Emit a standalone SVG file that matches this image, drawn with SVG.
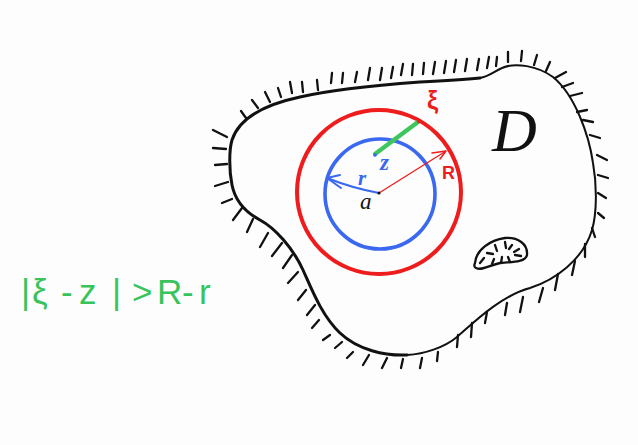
<svg xmlns="http://www.w3.org/2000/svg" width="638" height="445" viewBox="0 0 638 445">
<style>
.bd{fill:none;stroke:#111;stroke-linecap:round;stroke-linejoin:round}
.ht line{stroke:#111;stroke-width:2.3;stroke-linecap:round}
.lbl{font-family:"Liberation Serif",serif;font-style:italic}
.sans{font-family:"Liberation Sans",Arial,sans-serif}
</style>
<rect width="638" height="445" fill="#fdfdfd"/>
<g id="domain">
<path class="bd" stroke-width="3" d="M480,78 C460,80 440,81 420,82 C380,85 330,90 300,97 C272,103 240,115 232,140 C229,150 229,170 232,185 C235,200 245,212 260,220 C275,228 293,248 303,270 C312,290 322,316 340,333 C358,350 385,356 407,355"/>
<path class="bd" stroke-width="2" d="M407,355 C425,354 445,347 457,337 C472,324 500,296 530,288 C555,280 583,260 592,230 C597,213 597,185 593,163 C589,135 575,95 553,77 C538,66 515,62 502,68 C495,71 488,77 480,78"/>
</g>
<g id="hatching" class="ht">
<line x1="213" y1="130" x2="227" y2="137"/>
<line x1="213" y1="148" x2="226" y2="149"/>
<line x1="215" y1="165" x2="227" y2="164"/>
<line x1="215" y1="186" x2="228" y2="182"/>
<line x1="222" y1="203" x2="232" y2="199"/>
<line x1="233" y1="220" x2="242" y2="208"/>
<line x1="247" y1="232" x2="253" y2="219"/>
<line x1="260" y1="247" x2="268" y2="233"/>
<line x1="272" y1="256" x2="282" y2="243"/>
<line x1="283" y1="268" x2="292" y2="255"/>
<line x1="288" y1="283" x2="298" y2="272"/>
<line x1="298" y1="300" x2="306" y2="290"/>
<line x1="307" y1="315" x2="315" y2="305"/>
<line x1="312" y1="328" x2="319" y2="320"/>
<line x1="323" y1="340" x2="330" y2="335"/>
<line x1="335" y1="348" x2="342" y2="342"/>
<line x1="347" y1="358" x2="353" y2="352"/>
<line x1="363" y1="365" x2="369" y2="355"/>
<line x1="382" y1="368" x2="387" y2="358"/>
<line x1="401" y1="368" x2="403" y2="359"/>
<line x1="420" y1="368" x2="422" y2="358"/>
<line x1="437" y1="361" x2="438" y2="352"/>
<line x1="457" y1="347" x2="458" y2="335"/>
<line x1="471" y1="337" x2="472" y2="323"/>
<line x1="485" y1="323" x2="487" y2="312"/>
<line x1="505" y1="315" x2="507" y2="303"/>
<line x1="520" y1="312" x2="523" y2="297"/>
<line x1="539" y1="302" x2="543" y2="288"/>
<line x1="555" y1="290" x2="558" y2="274"/>
<line x1="572" y1="275" x2="575" y2="261"/>
<line x1="585" y1="257" x2="585" y2="244"/>
<line x1="595" y1="237" x2="592" y2="228"/>
<line x1="604" y1="218" x2="598" y2="213"/>
<line x1="606" y1="198" x2="598" y2="193"/>
<line x1="608" y1="178" x2="598" y2="175"/>
<line x1="607" y1="160" x2="597" y2="155"/>
<line x1="600" y1="138" x2="590" y2="135"/>
<line x1="593" y1="122" x2="583" y2="120"/>
<line x1="587" y1="110" x2="577" y2="112"/>
<line x1="582" y1="93" x2="570" y2="96"/>
<line x1="573" y1="83" x2="562" y2="87"/>
<line x1="566" y1="72" x2="555" y2="78"/>
<line x1="550" y1="62" x2="546" y2="71"/>
<line x1="537" y1="55" x2="534" y2="65"/>
<line x1="522" y1="51" x2="521" y2="61"/>
<line x1="508" y1="52" x2="508" y2="62"/>
<line x1="497" y1="57" x2="496" y2="66"/>
<line x1="489" y1="57" x2="487" y2="68"/>
<line x1="479" y1="59" x2="477" y2="70"/>
<line x1="467" y1="59" x2="465" y2="71"/>
<line x1="456" y1="60" x2="454" y2="72"/>
<line x1="446" y1="61" x2="444" y2="73"/>
<line x1="435" y1="62" x2="433" y2="74"/>
<line x1="424" y1="63" x2="423" y2="74"/>
<line x1="413" y1="64" x2="412" y2="75"/>
<line x1="403" y1="64" x2="401" y2="75"/>
<line x1="393" y1="67" x2="391" y2="78"/>
<line x1="382" y1="68" x2="380" y2="80"/>
<line x1="370" y1="68" x2="368" y2="80"/>
<line x1="357" y1="72" x2="355" y2="82"/>
<line x1="343" y1="73" x2="342" y2="83"/>
<line x1="332" y1="73" x2="331" y2="83"/>
<line x1="317" y1="80" x2="318" y2="90"/>
<line x1="302" y1="82" x2="303" y2="92"/>
<line x1="290" y1="82" x2="292" y2="93"/>
<line x1="278" y1="88" x2="281" y2="97"/>
<line x1="265" y1="92" x2="270" y2="102"/>
<line x1="252" y1="100" x2="258" y2="108"/>
<line x1="241" y1="111" x2="246" y2="118"/>
</g>
<g id="hole">
<path class="bd" stroke-width="2.3" d="M475,263 C476,250 490,240 505,238 C518,237 528,244 527,255 C526,262 512,262 500,263 C490,265 482,271 476,268 C474,267 474,265 475,263 Z"/>
<g class="ht">
<line x1="480" y1="263" x2="484" y2="258"/>
<line x1="487" y1="253" x2="493" y2="254"/>
<line x1="495" y1="245" x2="497" y2="251"/>
<line x1="505" y1="242" x2="506" y2="248"/>
<line x1="512" y1="245" x2="509" y2="249"/>
<line x1="519" y1="249" x2="514" y2="252"/>
<line x1="521" y1="256" x2="515" y2="255"/>
<line x1="510" y1="262" x2="508" y2="257"/>
<line x1="501" y1="263" x2="502" y2="257"/>
<line x1="492" y1="264" x2="494" y2="259"/>
</g>
</g>
<g id="circle-R">
<circle cx="379" cy="192" r="82" fill="none" stroke="#ee1c1c" stroke-width="4"/>
</g>
<g id="circle-r">
<circle cx="380" cy="194" r="55" fill="none" stroke="#3b68f0" stroke-width="3.6"/>
</g>
<g id="connectors">
<line x1="375" y1="154" x2="418" y2="122" stroke="#3cc65c" stroke-width="4.2" stroke-linecap="round"/>
<path d="M379,193 Q352,188 327,178" fill="none" stroke="#3b68f0" stroke-width="2"/>
<path d="M340,175 L327,178 L341,188" fill="none" stroke="#3b68f0" stroke-width="2" stroke-linecap="round" stroke-linejoin="round"/>
<line x1="379" y1="193" x2="446" y2="151" stroke="#ee1c1c" stroke-width="1.3"/>
<path d="M432,153 L446,151 L440,159" fill="none" stroke="#ee1c1c" stroke-width="1.5" stroke-linecap="round" stroke-linejoin="round"/>
</g>
<g id="points">
<circle cx="379" cy="193" r="1.6" fill="#111"/>
<circle cx="375" cy="155" r="1.8" fill="#3b68f0"/>
<circle cx="419" cy="121" r="2.2" fill="#ee1c1c"/>
</g>
<g id="labels">
<text class="sans" x="427" y="109" font-size="25" font-weight="bold" fill="#ee1c1c">ξ</text>
<text class="lbl" x="380" y="170" font-size="23" font-weight="bold" fill="#3b68f0">z</text>
<text class="lbl" x="358" y="185" font-size="21" font-weight="bold" fill="#3b68f0">r</text>
<text class="sans" x="442" y="179" font-size="18" font-weight="bold" fill="#ee1c1c">R</text>
<text class="lbl" x="360" y="209" font-size="23" fill="#111">a</text>
<text class="lbl" x="492" y="151" font-size="62" fill="#111">D</text>
</g>
<g id="formula">
<text class="sans" y="304" font-size="35" fill="#38c45a" x="21 32 52 61 73 79 112 123 132 153 157 182 199">|ξ - z| &gt; R-r</text>
</g>
</svg>
